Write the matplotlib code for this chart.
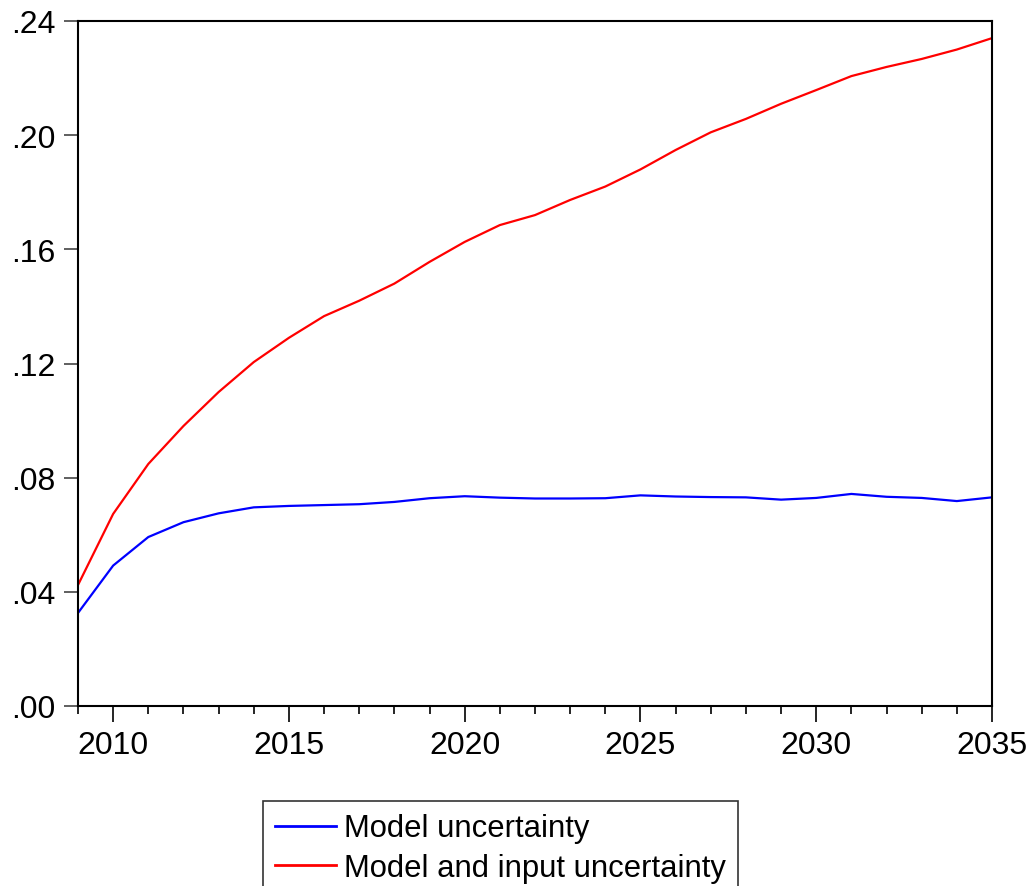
import numpy as np
import matplotlib.pyplot as plt
from matplotlib.ticker import FuncFormatter, MultipleLocator

years = list(range(2009, 2036))

model_unc = [0.0326, 0.0492, 0.0592, 0.0644, 0.0675, 0.0696, 0.0701, 0.0704,
             0.0707, 0.0715, 0.0728, 0.0735, 0.0730, 0.0727, 0.0727, 0.0728,
             0.0738, 0.0734, 0.0732, 0.0731, 0.0723, 0.0729, 0.0743, 0.0733,
             0.0729, 0.0718, 0.0731]

model_input_unc = [0.0424, 0.0673, 0.0848, 0.0981, 0.1100, 0.1205, 0.1290,
                   0.1366, 0.1420, 0.1480, 0.1556, 0.1626, 0.1685, 0.1720,
                   0.1773, 0.1820, 0.1880, 0.1948, 0.2010, 0.2057, 0.2110,
                   0.2158, 0.2207, 0.2239, 0.2267, 0.2300, 0.2340]

labels = ["Model uncertainty", "Model and input uncertainty"]

plt.rcParams['font.family'] = ['Liberation Sans', 'DejaVu Sans']

fig = plt.figure(figsize=(10.32, 8.87), dpi=100)
ax = fig.add_axes([78/1032, 1-707/887, (992-78)/1032, (707-22)/887])

ax.plot(years, model_unc, color=(0, 0, 1), lw=1.6, label=labels[0])
ax.plot(years, model_input_unc, color=(1, 0, 0), lw=1.6, label=labels[1])

ax.set_xlim(2009, 2035)
ax.set_ylim(0, 0.24)
ax.set_yticks(np.arange(0, 0.2401, 0.04))
ax.yaxis.set_major_formatter(FuncFormatter(lambda v, p: ("%.2f" % v).lstrip("0")))
ax.set_xticks(range(2010, 2036, 5))
ax.xaxis.set_minor_locator(MultipleLocator(1))

for s in ax.spines.values():
    s.set_linewidth(1.5)
    s.set_color("black")

ax.tick_params(axis='y', direction='out', length=10, width=1.2, pad=6,
               labelsize=23, color='#444444', right=False)
ax.tick_params(axis='x', which='major', direction='out', length=11.5, width=1.2,
               pad=6, labelsize=23, top=False)
ax.tick_params(axis='x', which='minor', direction='out', length=6, width=1.2,
               top=False)

leg = fig.legend(loc='upper left', bbox_to_anchor=(263/1032, 1-802/887),
                 fontsize=22.3, frameon=True, fancybox=False, handlelength=1.95,
                 handletextpad=0.25, borderpad=0.4, labelspacing=0.3,
                 borderaxespad=0)
leg.get_frame().set_edgecolor('black')
leg.get_frame().set_linewidth(1.2)
for h in leg.get_lines():
    h.set_linewidth(2)

fig.savefig("out.png", dpi=100)
